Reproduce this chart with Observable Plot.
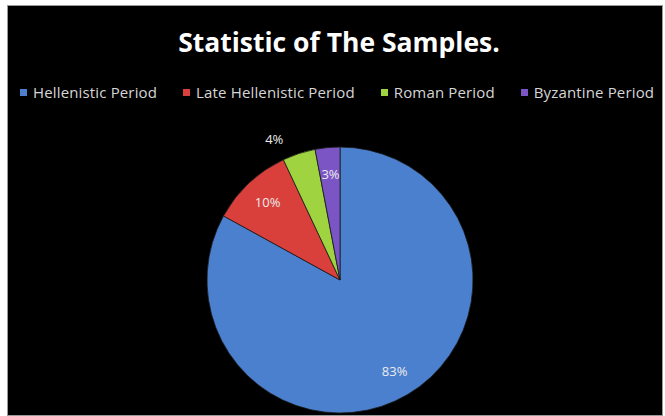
<!DOCTYPE html>
<html><head><meta charset="utf-8">
<script src="https://cdn.jsdelivr.net/npm/d3@7"></script>
<script src="https://cdn.jsdelivr.net/npm/@observablehq/plot@0.6"></script>
<style>
html,body{margin:0;padding:0;background:#fff;width:665px;height:416px;overflow:hidden}
#frame{position:absolute;left:8px;top:6px;width:654px;height:409px;background:#000;box-shadow:0 0 0 1px #9a9a9a}
#title{position:absolute;left:4px;top:0;width:654px;height:72px;text-align:center;color:#fff;font:bold 26.5px "Open Sans",sans-serif;line-height:72px}
#legend{position:absolute;left:12px;top:72px;height:28px;display:flex;align-items:center;gap:26px;white-space:nowrap;color:#d6d6d6;font:15px "Open Sans",sans-serif;letter-spacing:0.15px;line-height:28px}
#legend .item{display:flex;align-items:center;gap:6px}
#legend .sw{width:7px;height:7px;display:inline-block}
#chart{position:absolute;left:0;top:100px}
</style>
</head><body>
<div id="frame">
  <div id="title">Statistic of The Samples.</div>
  <div id="legend"></div>
  <div id="chart"></div>
</div>
<script>
const categories = ["Hellenistic Period", "Late Hellenistic Period", "Roman Period", "Byzantine Period"];
const shares = [83, 10, 4, 3];
const labels = ["83%", "10%", "4%", "3%"];
const colors = ["#4a80cd", "#d9403b", "#9fd440", "#7b55c4"];

const color = Plot.scale({color: {type: "ordinal", domain: categories, range: colors}});
const data = categories.map((name, i) => ({name, share: shares[i], label: labels[i]}));
const arcs = d3.pie().sort(null).value(d => d.share)(data);

// labels: inside at 0.8r, the small Roman slice label sits outside
const outside = new Set(["Roman Period"]);
const labelPos = arcs.map(a => {
  const out = outside.has(a.data.name);
  const ang = out ? a.startAngle : (a.startAngle + a.endAngle) / 2;
  const rr = out ? 1.17 : 0.8;
  return {label: a.data.label, x: rr * Math.sin(ang), y: rr * Math.cos(ang)};
});

// legend
const legend = document.getElementById("legend");
categories.forEach(c => {
  const it = document.createElement("span"); it.className = "item";
  const sw = document.createElement("span"); sw.className = "sw"; sw.style.background = color.apply(c);
  const tx = document.createElement("span"); tx.textContent = c;
  it.append(sw, tx); legend.append(it);
});

const W = 654, H = 309, CX = 332, CY = 174, R = 133;

function pieMark(index, scales) {
  const {x, y} = scales;
  const cx = x(0), cy = y(0), r = x(1) - x(0);
  const g = d3.create("svg:g").attr("transform", `translate(${cx},${cy})`);
  const arc = d3.arc().innerRadius(0).outerRadius(r);
  g.selectAll("path").data(arcs).join("path")
    .attr("d", arc)
    .attr("fill", d => color.apply(d.data.name))
    .attr("stroke", "#1a1a1a")
    .attr("stroke-width", 0.8);
  return g.node();
}

const plot = Plot.plot({
  width: W, height: H, margin: 0,
  style: {background: "transparent"},
  x: {domain: [-CX / R, (W - CX) / R], axis: null},
  y: {domain: [-(H - CY) / R, CY / R], axis: null},
  marks: [
    pieMark,
    Plot.text(labelPos, {x: "x", y: "y", text: "label", fill: "#ececec", fontSize: 13, fontFamily: "Open Sans, sans-serif"})
  ]
});
document.getElementById("chart").append(plot);
</script>
</body></html>
